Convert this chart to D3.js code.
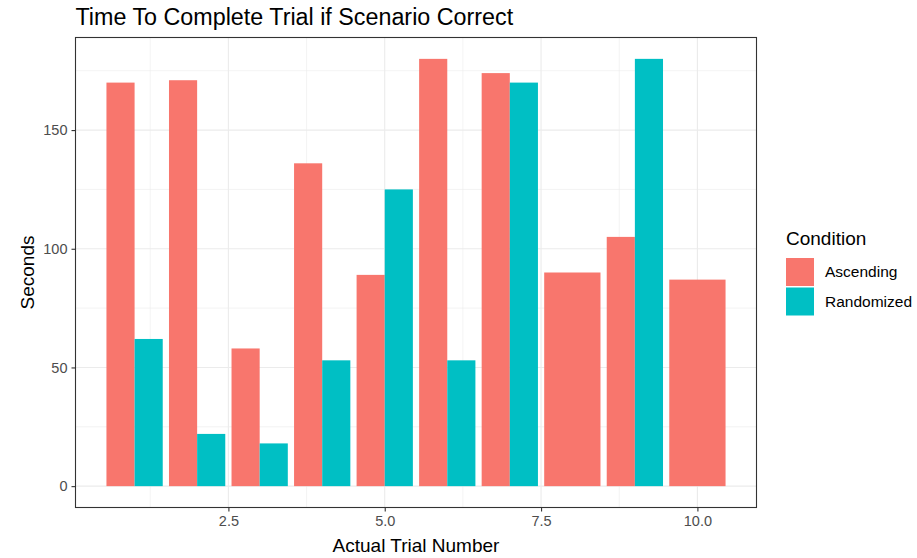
<!DOCTYPE html>
<html><head><meta charset="utf-8">
<script src="https://cdn.jsdelivr.net/npm/d3@7"></script>
<style>body{margin:0;background:#fff;} svg{display:block;font-family:"Liberation Sans",Arial,sans-serif;}</style>
</head><body>
<svg id="chart" width="917" height="558"></svg>
<script>
const trials = [1,2,3,4,5,6,7,8,9,10];
const conditions = ["Ascending","Randomized"];
const ascending = [170,171,58,136,89,180,174,90,105,87];
const randomized = [62,22,18,53,125,53,170,null,180,null];
const xTicks = [2.5,5.0,7.5,10.0];
const yTicks = [0,50,100,150];
const colors = {"Ascending":"#F8766D","Randomized":"#00BFC4"};

const svg = d3.select("#chart");
const L=75.5,R=756.5,T=37.5,B=507.5;
const barW = 0.9;
const xMin = 1 - barW/2, xMax = 10 + barW/2;
const xPad = (xMax-xMin)*0.05;
const x = d3.scaleLinear().domain([xMin-xPad, xMax+xPad]).range([L,R]);
const yMaxV = 180, yPad = yMaxV*0.05;
const y = d3.scaleLinear().domain([-yPad, yMaxV+yPad]).range([B,T]);

// grid
const g = svg.append("g");
const xMinor = [1.25,3.75,6.25,8.75];
const yMinor = [25,75,125,175];
g.selectAll(".xm").data(xMinor).enter().append("line")
 .attr("x1",d=>x(d)).attr("x2",d=>x(d)).attr("y1",T).attr("y2",B)
 .attr("stroke","#EBEBEB").attr("stroke-width",0.6);
g.selectAll(".ym").data(yMinor).enter().append("line")
 .attr("y1",d=>y(d)).attr("y2",d=>y(d)).attr("x1",L).attr("x2",R)
 .attr("stroke","#EBEBEB").attr("stroke-width",0.6);
g.selectAll(".xM").data(xTicks).enter().append("line")
 .attr("x1",d=>x(d)).attr("x2",d=>x(d)).attr("y1",T).attr("y2",B)
 .attr("stroke","#EBEBEB").attr("stroke-width",1.1);
g.selectAll(".yM").data(yTicks).enter().append("line")
 .attr("y1",d=>y(d)).attr("y2",d=>y(d)).attr("x1",L).attr("x2",R)
 .attr("stroke","#EBEBEB").attr("stroke-width",1.1);

// bars
const bars = [];
trials.forEach((t,i)=>{
  const vals = [ascending[i], randomized[i]];
  const present = conditions.filter((c,j)=>vals[j]!==null);
  const n = present.length;
  present.forEach((c,k)=>{
    const v = vals[conditions.indexOf(c)];
    const w = barW/n;
    const x0 = t - barW/2 + k*w;
    bars.push({c, v, x0, x1:x0+w});
  });
});
svg.append("g").selectAll("rect").data(bars).enter().append("rect")
 .attr("x",d=>x(d.x0)).attr("width",d=>x(d.x1)-x(d.x0))
 .attr("y",d=>y(d.v)).attr("height",d=>y(0)-y(d.v))
 .attr("fill",d=>colors[d.c]);

// panel border
svg.append("rect").attr("x",L).attr("y",T).attr("width",R-L).attr("height",B-T)
 .attr("fill","none").attr("stroke","#333333").attr("stroke-width",1.1);

// axes
const xAxis = d3.axisBottom(x).tickValues(xTicks).tickFormat(d3.format(".1f")).tickSize(4).tickPadding(4);
const xa = svg.append("g").attr("transform",`translate(0,${B})`).call(xAxis);
const yAxis = d3.axisLeft(y).tickValues(yTicks).tickFormat(d3.format("d")).tickSize(4).tickPadding(4);
const ya = svg.append("g").attr("transform",`translate(${L},0)`).call(yAxis);
[xa,ya].forEach(a=>{
  a.select(".domain").remove();
  a.selectAll(".tick line").attr("stroke","#333333").attr("stroke-width",1.1);
  a.selectAll(".tick text").attr("fill","#4D4D4D").style("font-size","14.5px").style("font-family","Liberation Sans, Arial, sans-serif");
});

// titles
svg.append("text").attr("x",L).attr("y",25).text("Time To Complete Trial if Scenario Correct")
 .attr("fill","#000").style("font-size","23.3px");
svg.append("text").attr("x",(L+R)/2).attr("y",551.5).attr("text-anchor","middle")
 .text("Actual Trial Number").attr("fill","#000").style("font-size","19px");
svg.append("text").attr("transform",`translate(33.5,${(T+B)/2}) rotate(-90)`).attr("text-anchor","middle")
 .text("Seconds").attr("fill","#000").style("font-size","19px");

// legend
const lg = svg.append("g");
lg.append("text").attr("x",786).attr("y",245).text("Condition").style("font-size","19px").attr("fill","#000");
conditions.forEach((c,i)=>{
  const yy = 258 + i*29.5;
  lg.append("rect").attr("x",786).attr("y",yy).attr("width",28).attr("height",28).attr("fill",colors[c]);
  lg.append("text").attr("x",825).attr("y",yy+14).attr("dy","0.35em").text(c)
   .style("font-size","15.5px").attr("fill","#000");
});
</script>
</body></html>
